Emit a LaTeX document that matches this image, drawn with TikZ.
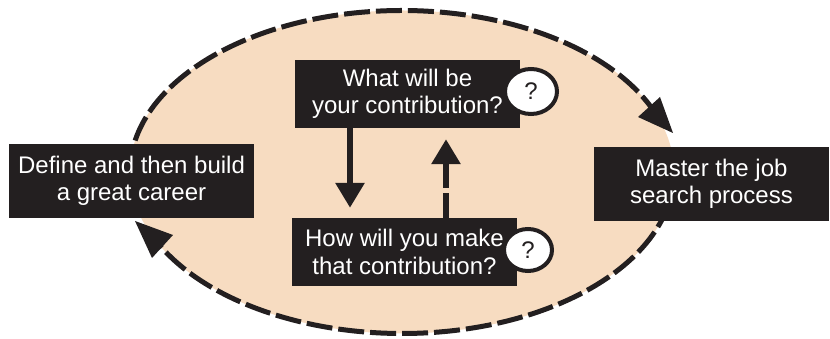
\documentclass[tikz,border=0pt]{standalone}
\usepackage{fontspec}
\setmainfont{Liberation Sans}
\usetikzlibrary{arrows.meta,shapes.geometric}
\definecolor{peach}{RGB}{247,220,193}
\definecolor{boxblack}{RGB}{35,31,32}
\begin{document}
\begin{tikzpicture}[x=1pt,y=1pt,
  txt/.style={font=\fontsize{24}{27.5}\selectfont},
  stepbox/.style={txt, rectangle, fill=boxblack, text=white, inner sep=0pt, align=center},
  qmark/.style={txt, ellipse, draw=boxblack, line width=4pt, fill=white, text=boxblack,
    inner sep=0pt},
  cyclearc/.style={draw=boxblack, line width=5pt, dash pattern=on 26pt off 6pt},
  cyclehead/.style={fill=boxblack},
  flowarrow/.style={draw=boxblack, line width=6pt, -{Triangle[length=25pt,width=28pt]}}]
\useasboundingbox (0,0) rectangle (830,339);
% background ellipse
\coordinate (c) at (402,167);
\fill[peach] (c) ellipse [x radius=272pt, y radius=161.5pt];
\draw[cyclearc] (c) ++(180:272pt and 161.5pt)
  arc[start angle=180, end angle=23.7, x radius=272pt, y radius=161.5pt];
\draw[cyclearc] (c) ++(0:272pt and 161.5pt)
  arc[start angle=0, end angle=-152.3, x radius=272pt, y radius=161.5pt];
% arrowheads of the cycle
\coordinate (rt) at (673,206);
\coordinate (lt) at (135,118);
\fill[cyclehead] (rt) -- (638,222) -- (660,242) -- cycle;
\fill[cyclehead] (lt) -- (152,81) -- (173,104) -- cycle;
% boxes
\node[stepbox, minimum width=245pt, minimum height=74pt] (left) at (131.5,158)
  {Define and then build\\a great career};
\node[stepbox, minimum width=235pt, minimum height=74pt] (right) at (711.5,155)
  {Master the job\\search process};
\node[stepbox, minimum width=225pt, minimum height=68pt] (top) at (407.5,245)
  {What will be\\your contribution?};
\node[stepbox, minimum width=225pt, minimum height=68pt] (bot) at (404.5,87)
  {How will you make\\that contribution?};
% question marks
\node[qmark, minimum width=52pt, minimum height=45pt] (q1) at (531,247.5) {?};
\node[qmark, minimum width=48pt, minimum height=42pt] (q2) at (528,89) {?};
% inner arrows
\draw[flowarrow] ([xshift=-57.5pt]top.south) -- ([xshift=-54.5pt,yshift=10pt]bot.north);
\draw[flowarrow, dash pattern=on 25pt off 5pt on 200pt]
  ([xshift=41.5pt]bot.north) -- ([xshift=38.5pt,yshift=-11pt]top.south);
\end{tikzpicture}
\end{document}
